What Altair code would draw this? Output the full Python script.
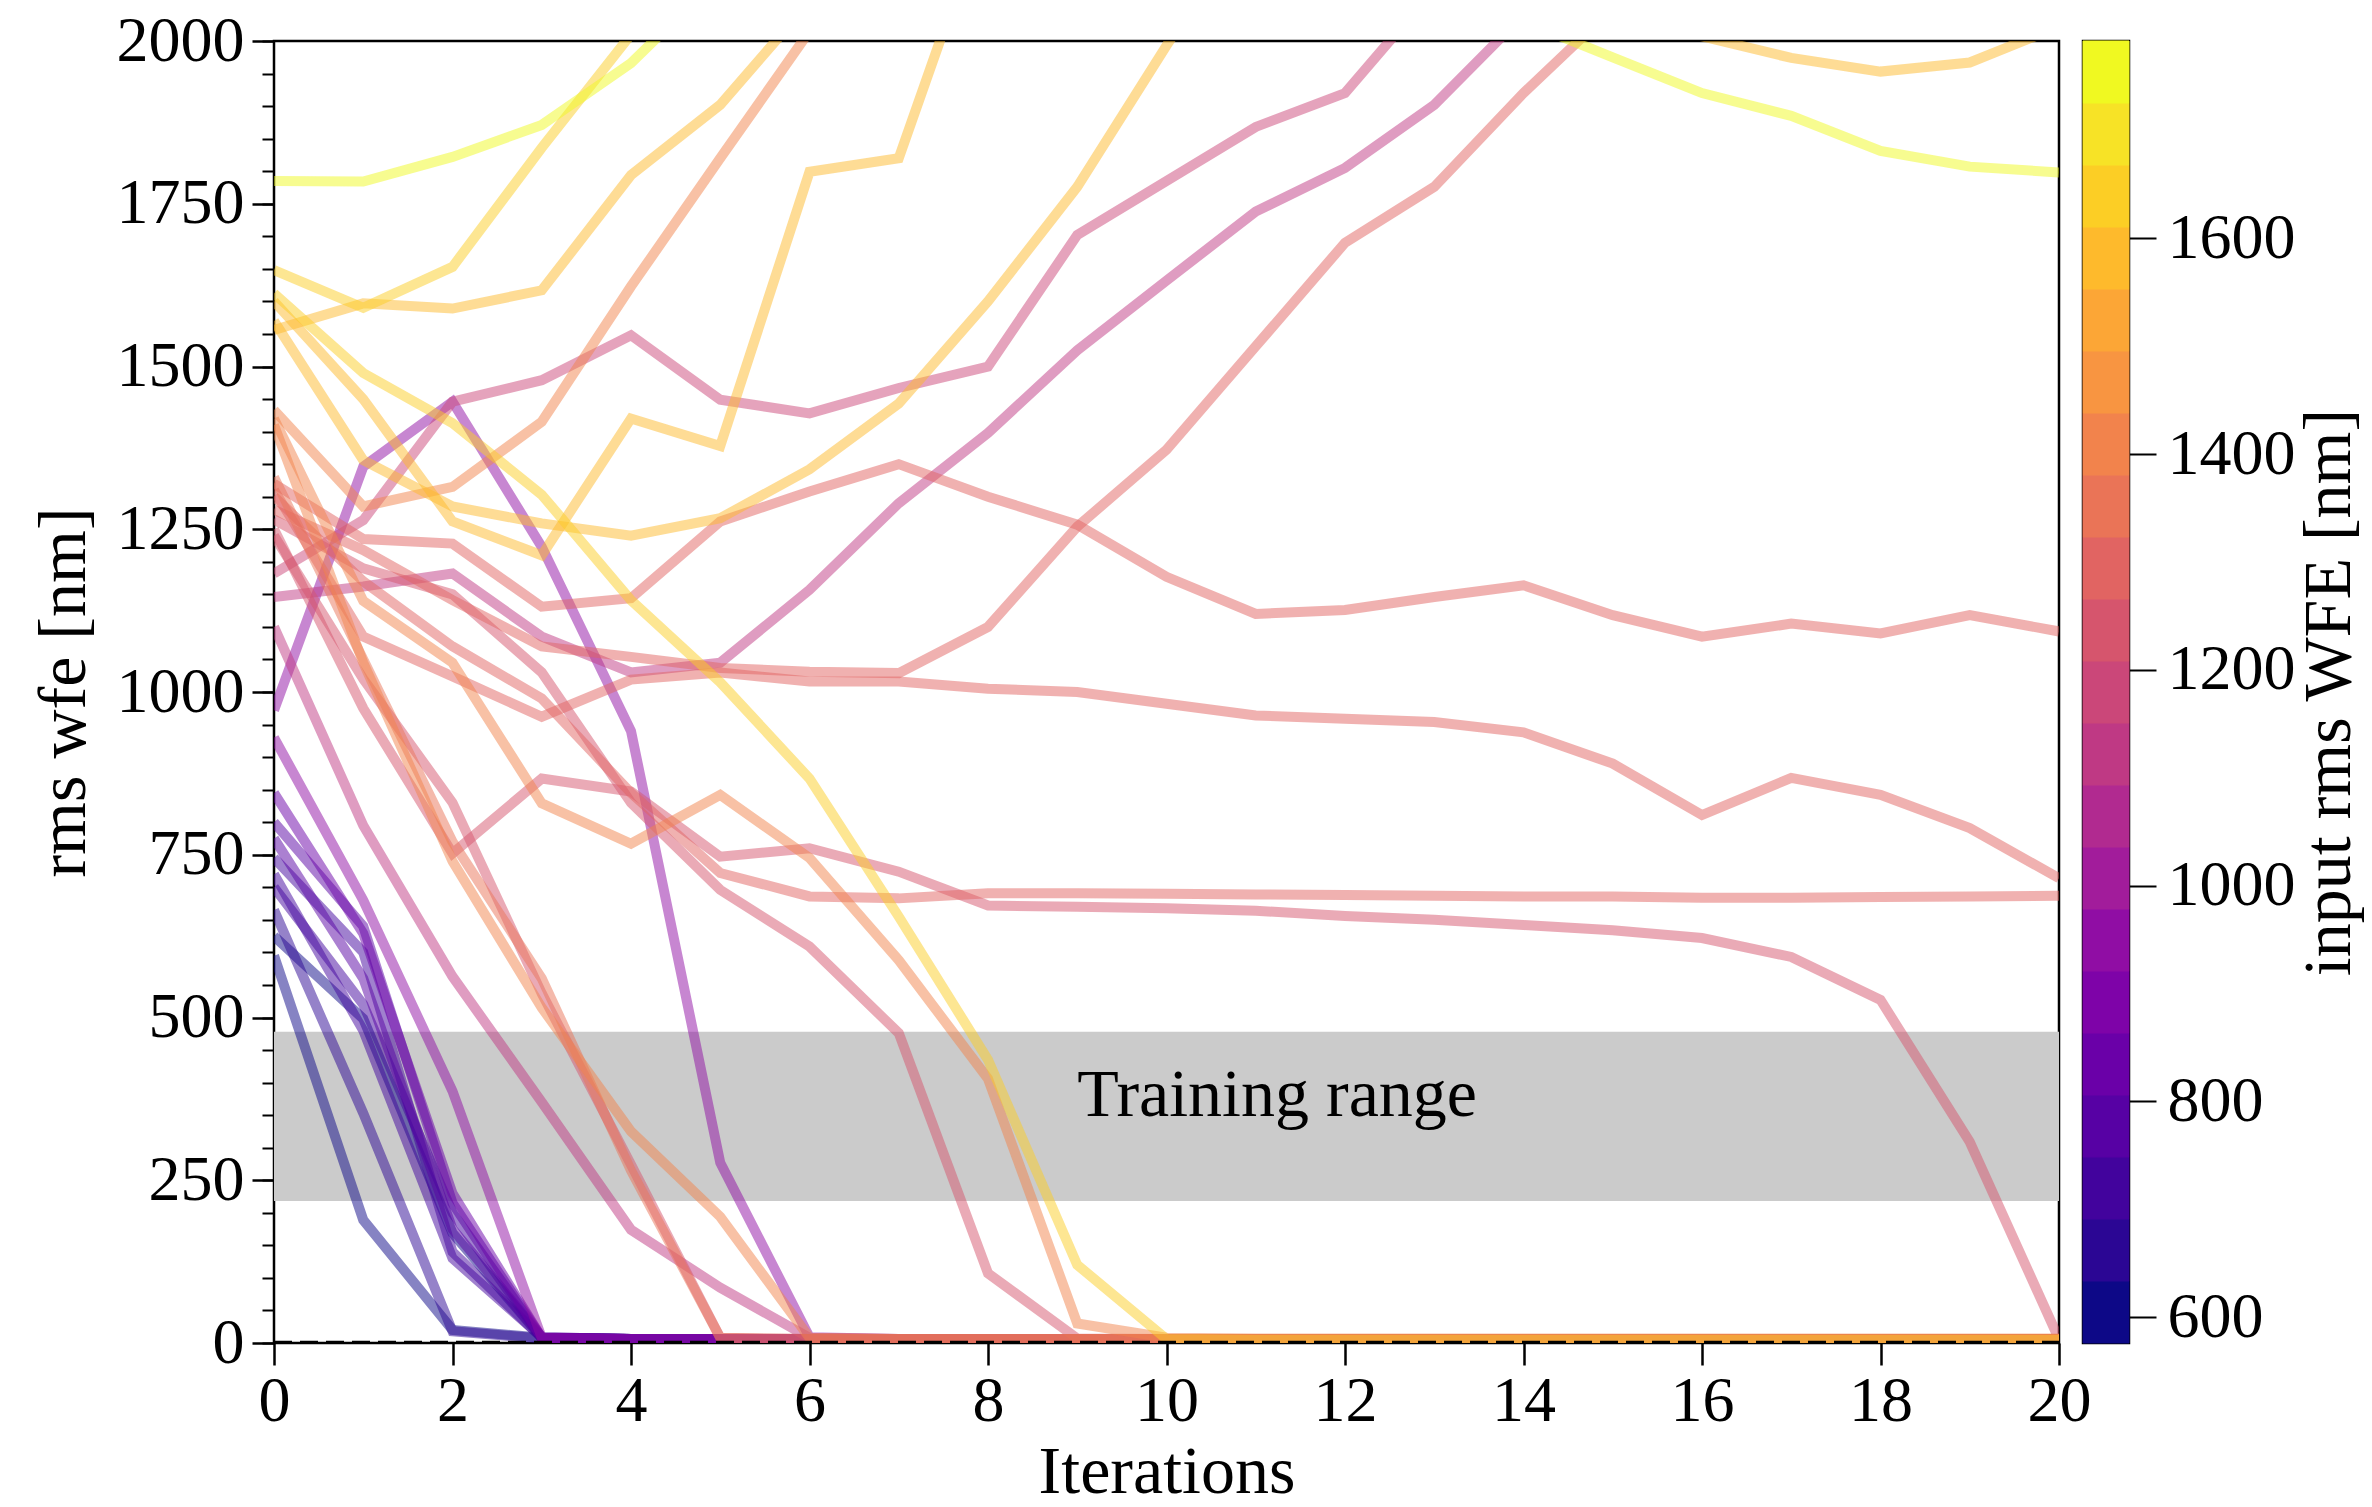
import altair as alt
import numpy as np
import pandas as pd

# Wavefront-error history of each run: rms wfe [nm] at iterations 0..20.
# Iteration 0 is the input rms WFE that sets the line colour.
ITERATIONS = list(range(21))

r01 = [1785, 1784, 1822, 1871, 1966, 2100, 2200, 2260, 2300, 2320, 2320, 2300, 2260, 2200, 2030, 1975, 1920, 1885, 1831, 1807, 1798]
r02 = [1648, 1590, 1653, 1836, 2010, 2200]
r03 = [1612, 1490, 1413, 1303, 1141, 1015, 867, 655, 435, 120, 6, 5, 5, 5, 5, 5, 5, 5, 5, 5, 5]
r04 = [1600, 1450, 1262, 1210, 1420, 1378, 1799, 1820, 2210]
r05 = [1570, 1356, 1285, 1259, 1240, 1267, 1342, 1443, 1600, 1776, 1993, 2200]
r06 = [1556, 1597, 1589, 1617, 1794, 1902, 2060, 2200, 2300, 2350, 2380, 2380, 2350, 2300, 2200, 2100, 2007, 1974, 1953, 1967, 2022]
r07 = [1433, 1285, 1315, 1415, 1623, 1820, 2015]
r08 = [1420, 1140, 1045, 829, 767, 842, 745, 588, 406, 30, 8, 7, 7, 7, 7, 7, 7, 7, 7, 7, 7]
r09 = [1410, 1045, 740, 515, 325, 194, 8, 6, 6, 6, 6, 6, 6, 6, 6, 6, 6, 6, 6, 6, 6]
r10 = [1330, 1050, 770, 560, 265, 8, 6, 6, 6, 6, 6, 6, 6, 6, 6, 6, 6, 6, 6, 6, 6]
r11 = [1320, 1235, 1228, 1131, 1144, 1262, 1308, 1350, 1300, 1257, 1177, 1120, 1126, 1146, 1164, 1118, 1085, 1105, 1090, 1118, 1093]
r12 = [1310, 1085, 1024, 962, 1019, 1030, 1016, 1016, 1005, 1000, 982, 964, 959, 954, 938, 890, 811, 868, 842, 791, 714]
r13 = [1300, 1170, 1070, 990, 845, 722, 686, 683, 691, 691, 690, 689, 688, 687, 686, 686, 684, 684, 685, 686, 687]
r14 = [1280, 1218, 1141, 1070, 1054, 1037, 1031, 1029, 1100, 1254, 1372, 1531, 1690, 1776, 1920, 2050]
r15 = [1265, 1190, 1150, 1030, 830, 696, 609, 476, 107, 7, 6, 6, 6, 6, 6, 6, 6, 6, 6, 6, 6]
r16 = [1250, 975, 752, 867, 847, 747, 760, 724, 672, 670, 668, 664, 656, 650, 642, 634, 622, 593, 527, 309, 6]
r17 = [1240, 1020, 830, 537, 274, 8, 6, 6, 6, 6, 6, 6, 6, 6, 6, 6, 6, 6, 6, 6, 6]
r18 = [1182, 1264, 1446, 1479, 1548, 1449, 1428, 1467, 1500, 1702, 1785, 1868, 1920, 2080]
r19 = [1146, 1162, 1182, 1085, 1030, 1045, 1157, 1290, 1398, 1525, 1632, 1738, 1805, 1902, 2040]
r20 = [1100, 795, 563, 370, 174, 85, 8, 6, 6, 6, 6, 6, 6, 6, 6, 6, 6, 6, 6, 6, 6]
r21 = [972, 1346, 1446, 1223, 940, 277, 9, 6, 6, 6, 6, 6, 6, 6, 6, 6, 6, 6, 6, 6, 6]
r22 = [930, 680, 387, 8, 6, 6, 6, 6, 6, 6, 6, 6, 6, 6, 6, 6, 6, 6, 6, 6, 6]
r23 = [845, 629, 230, 8, 6, 6, 6, 6, 6, 6, 6, 6, 6, 6, 6, 6, 6, 6, 6, 6, 6]
r24 = [800, 640, 215, 8, 6, 6, 6, 6, 6, 6, 6, 6, 6, 6, 6, 6, 6, 6, 6, 6, 6]
r25 = [775, 560, 175, 9, 6, 6, 6, 6, 6, 6, 6, 6, 6, 6, 6, 6, 6, 6, 6, 6, 6]
r26 = [745, 600, 140, 8, 6, 6, 6, 6, 6, 6, 6, 6, 6, 6, 6, 6, 6, 6, 6, 6, 6]
r27 = [720, 480, 130, 9, 6, 6, 6, 6, 6, 6, 6, 6, 6, 6, 6, 6, 6, 6, 6, 6, 6]
r28 = [700, 520, 200, 8, 6, 6, 6, 6, 6, 6, 6, 6, 6, 6, 6, 6, 6, 6, 6, 6, 6]
r29 = [665, 353, 18, 7, 6, 6, 6, 6, 6, 6, 6, 6, 6, 6, 6, 6, 6, 6, 6, 6, 6]
r30 = [625, 498, 169, 8, 6, 6, 6, 6, 6, 6, 6, 6, 6, 6, 6, 6, 6, 6, 6, 6, 6]
r31 = [595, 189, 20, 8, 6, 6, 6, 6, 6, 6, 6, 6, 6, 6, 6, 6, 6, 6, 6, 6, 6]

RUNS = [r01, r02, r03, r04, r05, r06, r07, r08, r09, r10, r11, r12, r13, r14, r15, r16,
        r17, r18, r19, r20, r21, r22, r23, r24, r25, r26, r27, r28, r29, r30, r31]

TRAINING_RANGE = [218, 478]
TRAINING_LABEL = "Training range"
FLOOR_LEVEL = 1

CBAR_MIN, CBAR_MAX, CBAR_BINS = 576, 1783, 21
CBAR_TICKS = [600, 800, 1000, 1200, 1400, 1600]
Y_TICKS = list(range(0, 2001, 250))
Y_MINOR_TICKS = list(range(0, 2001, 50))
X_TICKS = list(range(0, 21, 2))

FONT = "Liberation Serif"

# long table, one row per (run, iteration)
rows = []
for k, vals in enumerate(RUNS):
    for it, v in zip(ITERATIONS, vals):
        rows.append({"run": k, "iteration": it, "wfe": v, "input": vals[0]})
df = pd.DataFrame(rows).sort_values(["input", "iteration"], kind="stable")

x_scale = alt.Scale(domain=[0, 20], nice=False, zero=False)
y_scale = alt.Scale(domain=[0, 2000], nice=False, zero=False)
color_scale = alt.Scale(
    type="quantize",
    domain=[CBAR_MIN, CBAR_MAX],
    nice=False,
    zero=False,
    scheme=alt.SchemeParams(name="plasma", count=CBAR_BINS, extent=[-0.05, 1.05]),
)

x_axis = alt.Axis(values=X_TICKS, title="Iterations", orient="bottom", tickSize=22, tickWidth=2.5,
                  labelPadding=4, titlePadding=5, labelFlush=False, format="d")

# training band; carries the x axis and the minor y ticks
band_df = pd.DataFrame({"x0": [0], "x1": [20], "lo": [TRAINING_RANGE[0]], "hi": [TRAINING_RANGE[1]]})
band = alt.Chart(band_df).mark_rect(color="#cbcbcb").encode(
    x=alt.X("x0:Q", scale=x_scale, axis=x_axis),
    x2="x1:Q",
    y=alt.Y("lo:Q", scale=y_scale,
            axis=alt.Axis(orient="left", values=Y_MINOR_TICKS, labels=False, title=None,
                          tickSize=12, tickWidth=2, domain=False, grid=False)),
    y2="hi:Q",
)

lines = alt.Chart(df).mark_line(
    strokeWidth=10, opacity=0.5, clip=True, strokeJoin="miter", strokeCap="butt"
).encode(
    x=alt.X("iteration:Q", scale=x_scale, axis=x_axis),
    y=alt.Y("wfe:Q", scale=y_scale,
            axis=alt.Axis(orient="left", values=Y_TICKS, title="rms wfe [nm]", tickSize=22,
                          tickWidth=2.5, labelPadding=8, titlePadding=18, labelFlush=False,
                          format="d")),
    color=alt.Color("input:Q", scale=color_scale, legend=None),
    detail="run:N",
)

floor_df = pd.DataFrame({"x0": [0], "x1": [20], "y": [FLOOR_LEVEL]})
floor = alt.Chart(floor_df).mark_rule(color="black", strokeWidth=3, strokeDash=[18, 8]).encode(
    x=alt.X("x0:Q", scale=x_scale, axis=x_axis),
    x2="x1:Q",
    y=alt.Y("y:Q", scale=y_scale, axis=None),
)

label_df = pd.DataFrame({"x": [9], "y": [348], "text": [TRAINING_LABEL]})
label = alt.Chart(label_df).mark_text(
    align="left", baseline="alphabetic", font=FONT, fontSize=68, color="black"
).encode(
    x=alt.X("x:Q", scale=x_scale, axis=x_axis),
    y=alt.Y("y:Q", scale=y_scale, axis=None),
    text="text:N",
)

main = alt.layer(band, lines, floor, label).resolve_axis(y="independent").properties(
    width=1785, height=1302
)

# discrete colour bar, one cell per colour bin
edges = np.linspace(CBAR_MIN, CBAR_MAX, CBAR_BINS + 1)
cbar_df = pd.DataFrame({"lo": edges[:-1], "hi": edges[1:], "mid": (edges[:-1] + edges[1:]) / 2, "col": "c"})
cbar = alt.Chart(cbar_df).mark_rect(strokeWidth=1).encode(
    x=alt.X("col:N", axis=None, scale=alt.Scale(paddingInner=0, paddingOuter=0)),
    y=alt.Y("lo:Q", scale=alt.Scale(domain=[CBAR_MIN, CBAR_MAX], nice=False, zero=False),
            axis=alt.Axis(orient="right", values=CBAR_TICKS, title="input rms WFE [nm]",
                          tickSize=27, tickWidth=2, labelPadding=11, titleAngle=270,
                          titleBaseline="top", titlePadding=0, labelFlush=False, format="d")),
    y2="hi:Q",
    color=alt.Color("mid:Q", scale=color_scale, legend=None),
    stroke=alt.Stroke("mid:Q", scale=color_scale, legend=None),
).properties(width=46, height=1302)

chart = alt.hconcat(main, cbar, spacing=24, bounds="flush").properties(
    autosize=alt.AutoSizeParams(type="none"),
    padding={"left": 274, "top": 41, "right": 2098, "bottom": 1466},
).configure(
    background="white", font=FONT
).configure_view(
    stroke="black", strokeWidth=2.5
).configure_axis(
    labelFont=FONT, titleFont=FONT, labelFontSize=64, titleFontSize=68,
    labelColor="black", titleColor="black", tickColor="black",
    titleFontWeight="normal", grid=False, domain=False,
)

chart.save("out.html", embed_options={"renderer": "svg", "actions": False})
